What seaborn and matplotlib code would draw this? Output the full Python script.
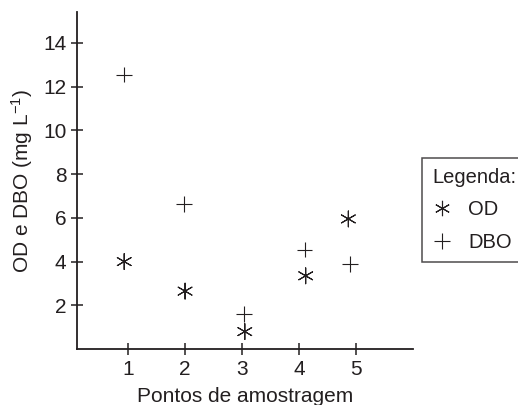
import pandas as pd
import matplotlib
matplotlib.use("Agg")
import matplotlib.pyplot as plt
from matplotlib.lines import Line2D
import seaborn as sns

# valores
pontos_od = [0.93, 2.0, 3.05, 4.12, 4.87]
od = [4.0, 2.65, 0.8, 3.35, 5.95]
pontos_dbo = [0.92, 1.98, 3.03, 4.1, 4.9]
dbo = [12.55, 6.65, 1.6, 4.55, 3.9]
x_ticks = [1, 2, 3, 4, 5]
y_ticks = [2, 4, 6, 8, 10, 12, 14]

INK = "#231f20"
ASTERISK = (6, 2, 0)
FS = 15


def build_frame():
    df_od = pd.DataFrame({"ponto": pontos_od, "valor": od, "serie": "OD"})
    df_dbo = pd.DataFrame({"ponto": pontos_dbo, "valor": dbo, "serie": "DBO"})
    return pd.concat([df_od, df_dbo], ignore_index=True)


def main():
    sns.set_style("white")
    plt.rcParams["font.family"] = ["Liberation Sans", "DejaVu Sans"]
    plt.rcParams["mathtext.default"] = "regular"

    df = build_frame()
    fig = plt.figure(figsize=(5.18, 4.05), dpi=100)
    ax = fig.add_axes([0.1486, 0.138, 0.648, 0.832])

    sns.scatterplot(data=df, x="ponto", y="valor", style="serie",
                    markers={"OD": ASTERISK, "DBO": "+"}, color=INK,
                    s=130, linewidth=0.8, legend=False, ax=ax)

    ax.set_xlim(0.1, 6.0)
    ax.set_ylim(0, 15.4)
    ax.set_xticks(x_ticks)
    ax.set_yticks(y_ticks)
    ax.tick_params(bottom=True, left=True, direction="inout", length=9,
                   width=1.1, color=INK, labelcolor=INK, labelsize=FS, pad=3)
    for side in ["top", "right"]:
        ax.spines[side].set_visible(False)
    for side in ["left", "bottom"]:
        ax.spines[side].set_color(INK)
        ax.spines[side].set_linewidth(1.3)

    ax.set_xlabel("Pontos de amostragem", fontsize=FS, color=INK, labelpad=6)
    ax.set_ylabel("OD e DBO (mg L$^{-1}$)", fontsize=FS, color=INK, labelpad=6)

    handles = [
        Line2D([], [], marker=ASTERISK, linestyle="none", color=INK,
               markersize=11, markeredgewidth=0.8, label="OD"),
        Line2D([], [], marker="+", linestyle="none", color=INK,
               markersize=11, markeredgewidth=0.8, label="DBO"),
    ]
    leg = fig.legend(handles=handles, title="Legenda:", loc="upper left",
                     bbox_to_anchor=(422 / 518, 1 - 158 / 405),
                     frameon=True, fancybox=False, fontsize=14.5,
                     title_fontsize=14.5, handlelength=1.0, handletextpad=0.8,
                     borderpad=0.5, labelspacing=0.66, borderaxespad=0)
    leg._legend_box.align = "left"
    leg.get_frame().set_edgecolor(INK)
    leg.get_frame().set_linewidth(1.1)
    for t in leg.get_texts():
        t.set_color(INK)
    leg.get_title().set_color(INK)

    fig.savefig("out.png", dpi=100, facecolor="white")


if __name__ == "__main__":
    main()
